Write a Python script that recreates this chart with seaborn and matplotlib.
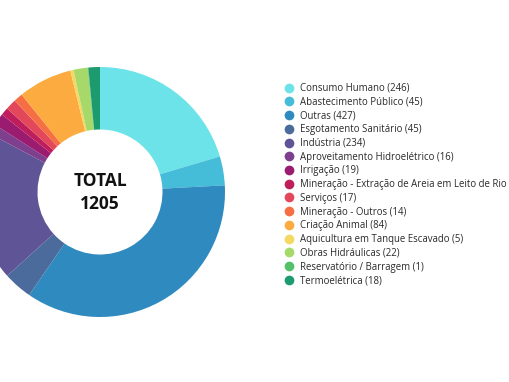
import matplotlib
matplotlib.use("Agg")
import matplotlib.pyplot as plt
from matplotlib.lines import Line2D
import seaborn as sns

categories = [
    "Consumo Humano", "Abastecimento Público", "Outras", "Esgotamento Sanitário",
    "Indústria", "Aproveitamento Hidroelétrico", "Irrigação",
    "Mineração - Extração de Areia em Leito de Rio", "Serviços",
    "Mineração - Outros", "Criação Animal", "Aquicultura em Tanque Escavado",
    "Obras Hidráulicas", "Reservatório / Barragem", "Termoelétrica",
]
values = [246, 45, 427, 45, 234, 16, 19, 12, 17, 14, 84, 5, 22, 1, 18]
colors = [
    "#6be3e8", "#45bcd8", "#2e8abf", "#4b6b9c", "#5f5496", "#7d3f8e", "#9a1b6f",
    "#bf1e5c", "#e2485a", "#f66f44", "#fbab3f", "#f5d862", "#a6d96a", "#55c06a",
    "#1e9b6e",
]
total = sum(values)

sns.set_theme(style="white")
plt.rcParams["font.family"] = ["Open Sans", "DejaVu Sans"]

W, H = 510, 382
fig = plt.figure(figsize=(W / 100, H / 100), dpi=100)
fig.patch.set_facecolor("white")

cx, cy, r = 100, 192, 125
ax = fig.add_axes([(cx - r) / W, (H - cy - r) / H, 2 * r / W, 2 * r / H])
ax.pie(values, colors=colors, startangle=90, counterclock=False,
       wedgeprops=dict(width=0.5, linewidth=0), radius=1.0)
ax.set_xlim(-1, 1)
ax.set_ylim(-1, 1)
ax.set_aspect("equal")
ax.axis("off")
ax.text(0, -0.005, f"TOTAL\n{total}", ha="center", va="center", fontsize=12.5,
        fontweight="bold", color="#111111", linespacing=1.38)

handles = [Line2D([0], [0], marker="o", linestyle="", markersize=7,
                  markerfacecolor=c, markeredgewidth=0) for c in colors]
labels = [f"{c} ({v})" for c, v in zip(categories, values)]
fig.legend(handles, labels, loc="upper left",
           bbox_to_anchor=(283 / W, 1 - 83 / H), frameon=False,
           fontsize=6.9, labelspacing=0.285, handletextpad=0.6,
           handlelength=1.2, borderaxespad=0, borderpad=0,
           labelcolor="#2a2a2a")

fig.savefig("out.png", dpi=100, facecolor="white")
